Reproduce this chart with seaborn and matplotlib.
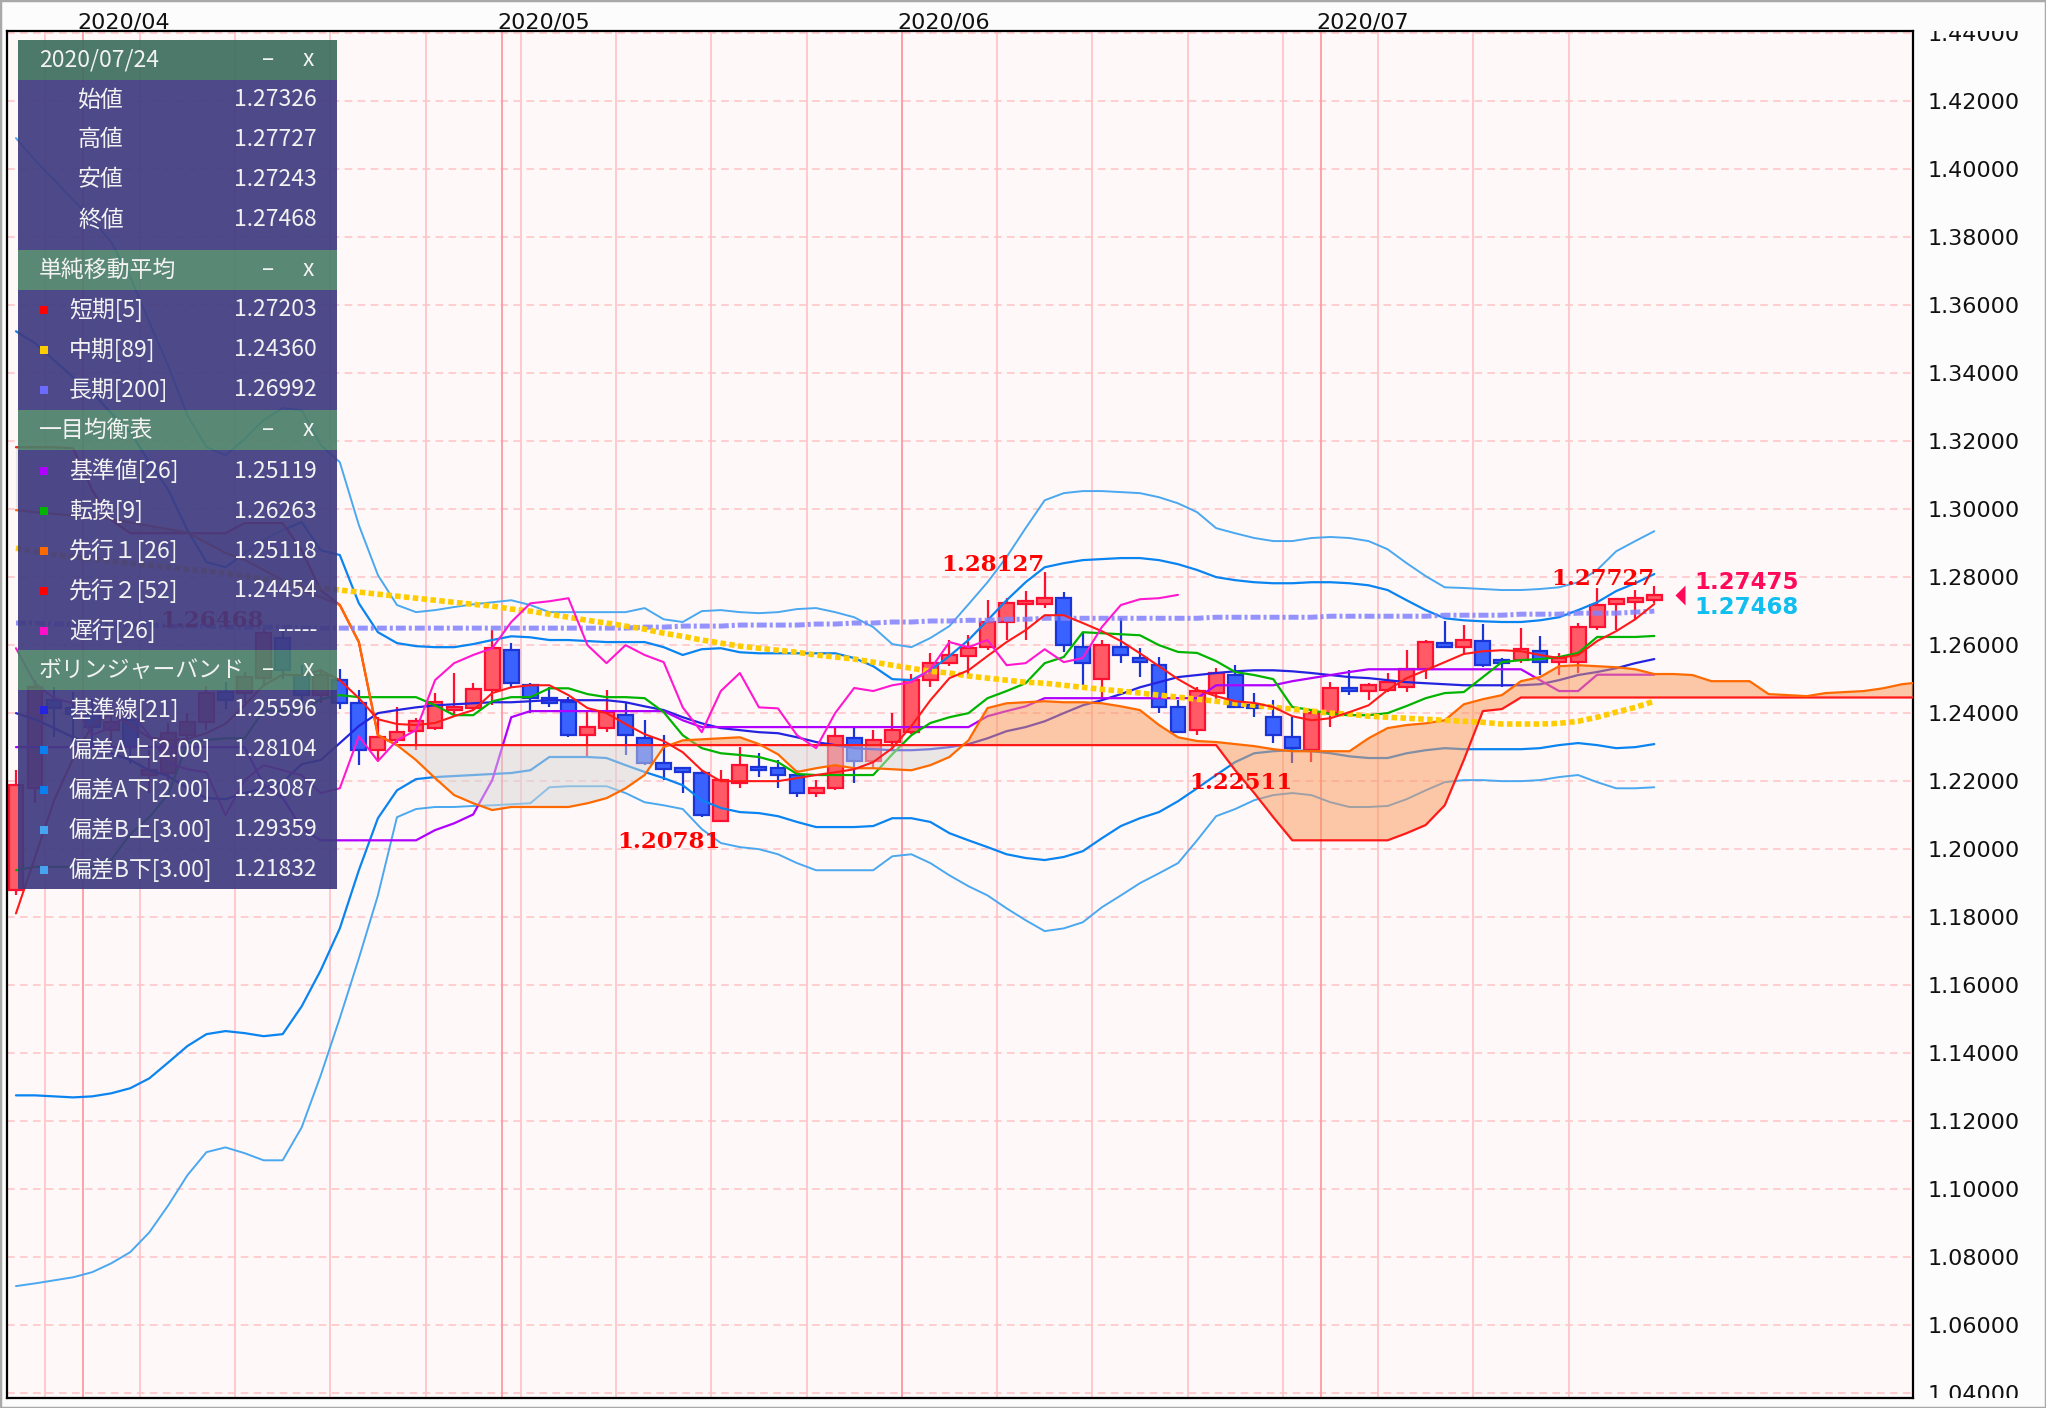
import matplotlib
matplotlib.use("Agg")
import numpy as np
import pandas as pd
import matplotlib.pyplot as plt
import seaborn as sns
from matplotlib.patches import Rectangle
from matplotlib.ticker import FormatStrFormatter
from matplotlib.transforms import Bbox, TransformedBbox, blended_transform_factory

# ---------------- data (GBP/USD daily, 2020/03/26 - 2020/07/24) ----------------
dates = pd.bdate_range("2020-03-26", "2020-07-24")

opens = [1.1878, 1.2178, 1.2437, 1.2413, 1.2396, 1.2349, 1.2378, 1.2216, 1.2222, 1.2334,
         1.2372, 1.2461, 1.2458, 1.2501, 1.2619, 1.2511, 1.2452, 1.2496, 1.2428, 1.2290,
         1.2319, 1.2346, 1.2355, 1.2408, 1.2414, 1.2467, 1.2584, 1.2481, 1.2443, 1.2431,
         1.2334, 1.2355, 1.2393, 1.2325, 1.2252, 1.2237, 1.2222, 1.2081, 1.2193, 1.2240,
         1.2237, 1.2216, 1.2164, 1.2178, 1.2325, 1.2258, 1.2314, 1.2343, 1.2496, 1.2546,
         1.2566, 1.2593, 1.2667, 1.2719, 1.2719, 1.2737, 1.2593, 1.2499, 1.2593, 1.2561,
         1.2540, 1.2416, 1.2349, 1.2458, 1.2511, 1.2422, 1.2387, 1.2328, 1.2290, 1.2399,
         1.2473, 1.2464, 1.2467, 1.2476, 1.2528, 1.2605, 1.2593, 1.2611, 1.2555, 1.2555,
         1.2581, 1.2549, 1.2549, 1.2652, 1.2719, 1.2725, 1.27326]
highs = [1.2231, 1.2496, 1.2475, 1.2460, 1.2440, 1.2420, 1.2400, 1.2290, 1.2370, 1.2400,
         1.2480, 1.2490, 1.2520, 1.26468, 1.2640, 1.2540, 1.2530, 1.2530, 1.2467, 1.2387,
         1.2416, 1.2384, 1.2458, 1.2517, 1.2487, 1.2643, 1.2605, 1.2487, 1.2475, 1.2446,
         1.2402, 1.2467, 1.2431, 1.2378, 1.2334, 1.2240, 1.2228, 1.2231, 1.2299, 1.2281,
         1.2261, 1.2231, 1.2202, 1.2355, 1.2355, 1.2349, 1.2399, 1.2513, 1.2575, 1.2614,
         1.2628, 1.2731, 1.2737, 1.2757, 1.28127, 1.2755, 1.2634, 1.2614, 1.2678, 1.2590,
         1.2564, 1.2437, 1.2476, 1.2531, 1.2540, 1.2457, 1.2437, 1.2387, 1.2405, 1.2490,
         1.2525, 1.2487, 1.2517, 1.2584, 1.2614, 1.2669, 1.2658, 1.2661, 1.2561, 1.2649,
         1.2625, 1.2575, 1.2664, 1.2766, 1.2737, 1.2761, 1.27727]
lows = [1.1864, 1.2134, 1.2328, 1.2310, 1.2300, 1.2300, 1.2250, 1.2165, 1.2200, 1.2300,
        1.2350, 1.2410, 1.2430, 1.2480, 1.2500, 1.2420, 1.2430, 1.2411, 1.2246, 1.2261,
        1.2311, 1.2290, 1.2349, 1.2396, 1.2408, 1.2423, 1.2473, 1.2399, 1.2417, 1.2328,
        1.2267, 1.2343, 1.2275, 1.2246, 1.2202, 1.2164, 1.2093, 1.20781, 1.2178, 1.2211,
        1.2178, 1.2152, 1.2152, 1.2172, 1.2193, 1.2237, 1.2290, 1.2338, 1.2476, 1.2537,
        1.2502, 1.2584, 1.2614, 1.2614, 1.2708, 1.2578, 1.2481, 1.2446, 1.2546, 1.2505,
        1.2399, 1.2340, 1.2334, 1.2428, 1.2413, 1.2387, 1.2311, 1.22511, 1.2255, 1.2358,
        1.2452, 1.2437, 1.2461, 1.2461, 1.2499, 1.2590, 1.2570, 1.2534, 1.2475, 1.2546,
        1.2511, 1.2511, 1.2517, 1.2643, 1.2643, 1.2672, 1.27243]
closes = [1.2187, 1.2475, 1.2413, 1.2396, 1.2357, 1.2372, 1.2299, 1.2231, 1.2340, 1.2372,
          1.2458, 1.2437, 1.2504, 1.2634, 1.2525, 1.2452, 1.2511, 1.2428, 1.2290, 1.2328,
          1.2343, 1.2375, 1.2431, 1.2416, 1.2470, 1.2590, 1.2487, 1.2443, 1.2428, 1.2334,
          1.2358, 1.2402, 1.2334, 1.2252, 1.2234, 1.2225, 1.2099, 1.2202, 1.2246, 1.2231,
          1.2216, 1.2164, 1.2178, 1.2331, 1.2258, 1.2319, 1.2349, 1.2496, 1.2546, 1.2570,
          1.2590, 1.2667, 1.2722, 1.2728, 1.2737, 1.2599, 1.2546, 1.2599, 1.2570, 1.2549,
          1.2416, 1.2343, 1.2464, 1.2517, 1.2416, 1.2413, 1.2334, 1.2296, 1.2399, 1.2473,
          1.2464, 1.2481, 1.2490, 1.2528, 1.2608, 1.2593, 1.2614, 1.2540, 1.2546, 1.2587,
          1.2549, 1.2561, 1.2652, 1.2717, 1.2734, 1.2737, 1.27468]

sma5 = [1.1810, 1.1975, 1.2142, 1.2266, 1.2362, 1.2399, 1.2364, 1.2327, 1.2320, 1.2323,
        1.2340, 1.2368, 1.2422, 1.2481, 1.2512, 1.2510, 1.2525, 1.2496, 1.2443, 1.2381,
        1.2367, 1.2364, 1.2370, 1.2390, 1.2408, 1.2458, 1.2475, 1.2481, 1.2481, 1.2452,
        1.2414, 1.2399, 1.2367, 1.2337, 1.2317, 1.2284, 1.2231, 1.2199, 1.2199, 1.2199,
        1.2199, 1.2208, 1.2217, 1.2225, 1.2234, 1.2255, 1.2296, 1.2361, 1.2437, 1.2502,
        1.2525, 1.2567, 1.2608, 1.2643, 1.2687, 1.2687, 1.2664, 1.2640, 1.2611, 1.2575,
        1.2537, 1.2499, 1.2467, 1.2449, 1.2434, 1.2429, 1.2417, 1.2390, 1.2378, 1.2384,
        1.2402, 1.2422, 1.2467, 1.2502, 1.2525, 1.2549, 1.2573, 1.2581, 1.2584, 1.2581,
        1.2570, 1.2561, 1.2570, 1.2611, 1.2640, 1.2675, 1.2720]
sma89 = [1.2884, 1.2875, 1.2866, 1.2858, 1.2852, 1.2846, 1.2840, 1.2834, 1.2828, 1.2822,
         1.2817, 1.2811, 1.2802, 1.2793, 1.2784, 1.2775, 1.2767, 1.2761, 1.2755, 1.2749,
         1.2743, 1.2737, 1.2731, 1.2725, 1.2719, 1.2714, 1.2705, 1.2699, 1.2690, 1.2681,
         1.2672, 1.2664, 1.2655, 1.2646, 1.2634, 1.2625, 1.2614, 1.2605, 1.2596, 1.2590,
         1.2584, 1.2578, 1.2570, 1.2564, 1.2558, 1.2549, 1.2540, 1.2531, 1.2522, 1.2517,
         1.2508, 1.2502, 1.2496, 1.2490, 1.2487, 1.2481, 1.2475, 1.2469, 1.2464, 1.2458,
         1.2452, 1.2446, 1.2440, 1.2434, 1.2428, 1.2422, 1.2416, 1.2411, 1.2405, 1.2399,
         1.2396, 1.2390, 1.2387, 1.2384, 1.2381, 1.2378, 1.2375, 1.2372, 1.2367, 1.2367,
         1.2367, 1.2369, 1.2375, 1.2387, 1.2402, 1.2416, 1.2434]
sma200 = [1.2664, 1.2664, 1.2661, 1.2661, 1.2661, 1.2658, 1.2658, 1.2658, 1.2655, 1.2655,
          1.2655, 1.2652, 1.2652, 1.2652, 1.2652, 1.2649, 1.2649, 1.2649, 1.2649, 1.2649,
          1.2649, 1.2649, 1.2649, 1.2649, 1.2649, 1.2649, 1.2649, 1.2649, 1.2649, 1.2649,
          1.2649, 1.2649, 1.2649, 1.2652, 1.2652, 1.2655, 1.2655, 1.2655, 1.2658, 1.2658,
          1.2658, 1.2658, 1.2661, 1.2661, 1.2664, 1.2664, 1.2667, 1.2667, 1.2670, 1.2670,
          1.2672, 1.2672, 1.2675, 1.2675, 1.2678, 1.2678, 1.2678, 1.2678, 1.2678, 1.2678,
          1.2678, 1.2678, 1.2678, 1.2681, 1.2681, 1.2681, 1.2681, 1.2681, 1.2681, 1.2684,
          1.2684, 1.2684, 1.2684, 1.2684, 1.2684, 1.2687, 1.2687, 1.2687, 1.2687, 1.2690,
          1.2690, 1.2690, 1.2693, 1.2693, 1.2693, 1.2696, 1.2699]

tenkan = [1.1937, 1.1947, 1.1947, 1.1947, 1.1947, 1.1967, 1.2043, 1.2093, 1.2161, 1.2312,
          1.2320, 1.2325, 1.2325, 1.2406, 1.2406, 1.2406, 1.2440, 1.2452, 1.2446, 1.2446,
          1.2446, 1.2446, 1.2422, 1.2393, 1.2393, 1.2434, 1.2446, 1.2446, 1.2472, 1.2472,
          1.2455, 1.2446, 1.2446, 1.2443, 1.2402, 1.2334, 1.2296, 1.2281, 1.2276, 1.2270,
          1.2255, 1.2220, 1.2217, 1.2217, 1.2217, 1.2217, 1.2278, 1.2334, 1.2370, 1.2387,
          1.2399, 1.2443, 1.2464, 1.2487, 1.2546, 1.2564, 1.2637, 1.2634, 1.2631, 1.2628,
          1.2599, 1.2579, 1.2576, 1.2552, 1.2520, 1.2511, 1.2499, 1.2417, 1.2408, 1.2396,
          1.2393, 1.2393, 1.2399, 1.2420, 1.2443, 1.2458, 1.2461, 1.2505, 1.2549, 1.2555,
          1.2558, 1.2564, 1.2576, 1.2623, 1.2623, 1.2623, 1.2626]
kijun = [1.2299, 1.2299, 1.2299, 1.2299, 1.2299, 1.2299, 1.2299, 1.2299, 1.2299, 1.2299,
         1.2299, 1.2299, 1.2299, 1.2190, 1.2150, 1.2060, 1.2025, 1.2025, 1.2025, 1.2025,
         1.2025, 1.2025, 1.2055, 1.2075, 1.2101, 1.2202, 1.2387, 1.2405, 1.2405, 1.2405,
         1.2405, 1.2405, 1.2405, 1.2405, 1.2405, 1.2378, 1.2358, 1.2358, 1.2358, 1.2358,
         1.2358, 1.2358, 1.2358, 1.2358, 1.2358, 1.2358, 1.2358, 1.2358, 1.2358, 1.2358,
         1.2358, 1.2390, 1.2405, 1.2419, 1.2443, 1.2443, 1.2443, 1.2443, 1.2443, 1.2443,
         1.2443, 1.2443, 1.2443, 1.2481, 1.2481, 1.2481, 1.2481, 1.2493, 1.2502, 1.2511,
         1.2520, 1.2528, 1.2528, 1.2528, 1.2528, 1.2528, 1.2528, 1.2528, 1.2528, 1.2528,
         1.2496, 1.2464, 1.2464, 1.2512, 1.2512, 1.2512, 1.2512]
# leading spans run 14 sessions past the last candle
senkou1 = [1.2996, 1.2990, 1.2985, 1.2980, 1.2975, 1.2970, 1.2960, 1.2950, 1.2940, 1.2930,
           1.2900, 1.2870, 1.2850, 1.2820, 1.2790, 1.2760, 1.2740, 1.2717, 1.2608, 1.2334,
           1.2305, 1.2261, 1.2208, 1.2158, 1.2134, 1.2114, 1.2123, 1.2123, 1.2123, 1.2123,
           1.2134, 1.2149, 1.2178, 1.2217, 1.2299, 1.2319, 1.2322, 1.2325, 1.2328, 1.2308,
           1.2278, 1.2226, 1.2237, 1.2246, 1.2237, 1.2237, 1.2234, 1.2231, 1.2246, 1.2270,
           1.2319, 1.2414, 1.2428, 1.2431, 1.2434, 1.2431, 1.2431, 1.2428, 1.2419, 1.2408,
           1.2364, 1.2328, 1.2317, 1.2314, 1.2308, 1.2302, 1.2293, 1.2287, 1.2287, 1.2287,
           1.2287, 1.2325, 1.2355, 1.2364, 1.2369, 1.2378, 1.2425, 1.2440, 1.2452, 1.2493,
           1.2505, 1.2537, 1.2540, 1.2537, 1.2534, 1.2528, 1.2514, 1.2514, 1.2511, 1.2493,
           1.2493, 1.2493, 1.2455, 1.2452, 1.2449, 1.2458, 1.2461, 1.2464, 1.2472, 1.2484,
           1.2490]
senkou2 = ([1.3181, 1.3181, 1.3181, 1.3178, 1.3055, 1.2967, 1.2928, 1.2928, 1.2928, 1.2928,
            1.2928, 1.2928, 1.2958, 1.2958, 1.2958, 1.2878, 1.2760, 1.2717, 1.2608, 1.2334]
           + [1.2305] * 44
           + [1.2231, 1.2164, 1.2093, 1.2025, 1.2025, 1.2025, 1.2025, 1.2025, 1.2025,
              1.2046, 1.2070, 1.2128, 1.2261, 1.2405, 1.2411]
           + [1.2445] * 22)

bb_up3 = [1.4090, 1.4025, 1.3967, 1.3908, 1.3852, 1.3784, 1.3681, 1.3549, 1.3419, 1.3275,
          1.3181, 1.3157, 1.3205, 1.3261, 1.3296, 1.3290, 1.3187, 1.3137, 1.2952, 1.2805,
          1.2717, 1.2696, 1.2702, 1.2711, 1.2719, 1.2725, 1.2731, 1.2717, 1.2696, 1.2696,
          1.2696, 1.2696, 1.2696, 1.2708, 1.2675, 1.2667, 1.2699, 1.2702, 1.2696, 1.2693,
          1.2696, 1.2705, 1.2708, 1.2696, 1.2681, 1.2652, 1.2602, 1.2593, 1.2620, 1.2655,
          1.2719, 1.2784, 1.2858, 1.2943, 1.3025, 1.3046, 1.3052, 1.3052, 1.3049, 1.3046,
          1.3034, 1.3016, 1.2990, 1.2943, 1.2928, 1.2914, 1.2905, 1.2905, 1.2914, 1.2917,
          1.2914, 1.2905, 1.2881, 1.2840, 1.2802, 1.2769, 1.2767, 1.2764, 1.2761, 1.2761,
          1.2764, 1.2769, 1.2784, 1.2820, 1.2875, 1.2905, 1.2934]
bb_up2 = [1.3522, 1.3487, 1.3437, 1.3387, 1.3343, 1.3281, 1.3225, 1.3137, 1.3055, 1.2937,
          1.2843, 1.2828, 1.2869, 1.2908, 1.2937, 1.2961, 1.2878, 1.2864, 1.2722, 1.2637,
          1.2605, 1.2596, 1.2593, 1.2593, 1.2602, 1.2614, 1.2625, 1.2622, 1.2614, 1.2614,
          1.2611, 1.2608, 1.2608, 1.2608, 1.2593, 1.2570, 1.2587, 1.2590, 1.2578, 1.2575,
          1.2575, 1.2575, 1.2575, 1.2575, 1.2561, 1.2537, 1.2499, 1.2496, 1.2525, 1.2567,
          1.2614, 1.2672, 1.2731, 1.2784, 1.2828, 1.2840, 1.2849, 1.2852, 1.2855, 1.2855,
          1.2849, 1.2837, 1.2820, 1.2799, 1.2790, 1.2784, 1.2781, 1.2781, 1.2784, 1.2784,
          1.2781, 1.2775, 1.2761, 1.2731, 1.2702, 1.2678, 1.2672, 1.2669, 1.2667, 1.2667,
          1.2672, 1.2681, 1.2702, 1.2725, 1.2758, 1.2781, 1.2808]
bb_mid = [1.2399, 1.2381, 1.2355, 1.2328, 1.2308, 1.2281, 1.2261, 1.2231, 1.2214, 1.2178,
          1.2149, 1.2146, 1.2164, 1.2178, 1.2196, 1.2249, 1.2261, 1.2311, 1.2361, 1.2399,
          1.2408, 1.2416, 1.2422, 1.2425, 1.2428, 1.2431, 1.2431, 1.2434, 1.2437, 1.2437,
          1.2437, 1.2437, 1.2431, 1.2419, 1.2408, 1.2387, 1.2369, 1.2355, 1.2349, 1.2343,
          1.2340, 1.2328, 1.2314, 1.2305, 1.2296, 1.2293, 1.2290, 1.2290, 1.2293, 1.2299,
          1.2308, 1.2325, 1.2346, 1.2358, 1.2375, 1.2399, 1.2422, 1.2437, 1.2455, 1.2475,
          1.2490, 1.2505, 1.2511, 1.2517, 1.2522, 1.2525, 1.2525, 1.2522, 1.2517, 1.2511,
          1.2505, 1.2502, 1.2496, 1.2490, 1.2487, 1.2484, 1.2481, 1.2481, 1.2481, 1.2481,
          1.2484, 1.2496, 1.2511, 1.2520, 1.2531, 1.2546, 1.2558]
bb_dn2 = [1.1275, 1.1275, 1.1272, 1.1269, 1.1272, 1.1281, 1.1296, 1.1325, 1.1372, 1.1420,
          1.1455, 1.1464, 1.1458, 1.1449, 1.1455, 1.1537, 1.1643, 1.1766, 1.1937, 1.2090,
          1.2172, 1.2205, 1.2211, 1.2214, 1.2217, 1.2220, 1.2223, 1.2231, 1.2270, 1.2270,
          1.2270, 1.2267, 1.2246, 1.2226, 1.2208, 1.2187, 1.2143, 1.2120, 1.2108, 1.2105,
          1.2096, 1.2079, 1.2064, 1.2064, 1.2064, 1.2067, 1.2090, 1.2090, 1.2079, 1.2046,
          1.2025, 1.2005, 1.1984, 1.1973, 1.1967, 1.1976, 1.1993, 1.2031, 1.2067, 1.2090,
          1.2108, 1.2140, 1.2178, 1.2217, 1.2255, 1.2281, 1.2287, 1.2290, 1.2287, 1.2281,
          1.2272, 1.2267, 1.2267, 1.2281, 1.2290, 1.2296, 1.2293, 1.2293, 1.2293, 1.2293,
          1.2296, 1.2305, 1.2311, 1.2305, 1.2296, 1.2299, 1.2308]
bb_dn3 = [1.0714, 1.0722, 1.0731, 1.0740, 1.0755, 1.0781, 1.0814, 1.0872, 1.0952, 1.1040,
          1.1108, 1.1122, 1.1105, 1.1084, 1.1084, 1.1181, 1.1334, 1.1502, 1.1678, 1.1863,
          1.2093, 1.2117, 1.2123, 1.2123, 1.2126, 1.2128, 1.2131, 1.2134, 1.2181, 1.2184,
          1.2184, 1.2184, 1.2164, 1.2137, 1.2128, 1.2117, 1.2058, 1.2017, 1.2005, 1.1999,
          1.1984, 1.1958, 1.1937, 1.1937, 1.1937, 1.1937, 1.1978, 1.1984, 1.1958, 1.1922,
          1.1890, 1.1863, 1.1825, 1.1790, 1.1758, 1.1766, 1.1784, 1.1828, 1.1863, 1.1899,
          1.1928, 1.1958, 1.2025, 1.2096, 1.2117, 1.2143, 1.2158, 1.2164, 1.2158, 1.2137,
          1.2123, 1.2123, 1.2126, 1.2146, 1.2172, 1.2196, 1.2202, 1.2202, 1.2199, 1.2199,
          1.2202, 1.2211, 1.2217, 1.2196, 1.2178, 1.2178, 1.2181]

price_ticks = [1.04, 1.06, 1.08, 1.10, 1.12, 1.14, 1.16, 1.18, 1.20, 1.22, 1.24,
               1.26, 1.28, 1.30, 1.32, 1.34, 1.36, 1.38, 1.40, 1.42, 1.44]

# swing labels: (session index, price, is_high)
swings = [(11, 1.26468, True), (35, 1.20781, False), (52, 1.28127, True),
          (65, 1.22511, False), (84, 1.27727, True)]

panel_ohlc = [("始値", "1.27326"), ("高値", "1.27727"), ("安値", "1.27243"), ("終値", "1.27468")]
panel_sma = [("短期[5]", "1.27203", "#ff0000"), ("中期[89]", "1.24360", "#ffcc00"),
             ("長期[200]", "1.26992", "#6b6bff")]
panel_ichi = [("基準値[26]", "1.25119", "#b000ff"), ("転換[9]", "1.26263", "#00b400"),
              ("先行１[26]", "1.25118", "#ff6a00"), ("先行２[52]", "1.24454", "#ff0000"),
              ("遅行[26]", "-----", "#ff10c8")]
panel_bb = [("基準線[21]", "1.25596", "#2424e0"), ("偏差A上[2.00]", "1.28104", "#0a7ff0"),
            ("偏差A下[2.00]", "1.23087", "#0a7ff0"), ("偏差B上[3.00]", "1.29359", "#46a4f0"),
            ("偏差B下[3.00]", "1.21832", "#46a4f0")]

# ---------------- figure ----------------
sns.set_style("white")
plt.rcParams["font.family"] = ["DejaVu Sans"]
CJK = ["Noto Sans CJK JP", "DejaVu Sans"]

W, H = 2046, 1408
fig = plt.figure(figsize=(W / 100, H / 100), dpi=100, facecolor="#fcfcfc")
ax = fig.add_axes([7 / W, 10 / H, 1906 / W, 1367 / H])
ax.set_facecolor("#fff8f8")

n = len(closes)
x = np.arange(n) - 2
xf = np.arange(len(senkou1)) - 2
o, h, l, c = map(np.array, (opens, highs, lows, closes))

# grid
for v in price_ticks:
    ax.axhline(v, color="#ffc2c6", lw=1.1, ls=(0, (5, 3.5)), zorder=0.5)
mondays = [x[k] - 0.5 for k, d in enumerate(dates) if d.weekday() == 0]
month_first = [k for k in range(1, n) if dates[k].month != dates[k - 1].month]
for xv in mondays:
    ax.axvline(xv, color="#ffc6ca", lw=1.3, zorder=0.6)
for k in month_first:
    ax.axvline(x[k] - 0.5, color="#ff9aa2", lw=1.3, zorder=0.7)

# candles
up = c >= o
body_lo = np.minimum(o, c)
body_h = np.maximum(np.abs(c - o), 0.00025)
for mask, fill, edge in [(up, "#ff5a66", "#ff1030"), (~up, "#3a62ff", "#1a34d8")]:
    ax.vlines(x[mask], l[mask], h[mask], color=edge, lw=1.6, zorder=2)
    ax.bar(x[mask], body_h[mask], bottom=body_lo[mask], width=0.78, color=fill,
           edgecolor=edge, linewidth=1.6, zorder=2.1)


def line(xs, ys, z=4, **kw):
    sns.lineplot(x=xs, y=ys, ax=ax, legend=False, zorder=z, **kw)


# bollinger bands, kijun and tenkan (under the cloud tint)
line(x, bb_up3, z=2.5, color="#4aa8f0", lw=1.4)
line(x, bb_dn3, z=2.5, color="#4aa8f0", lw=1.4)
line(x, bb_up2, z=2.5, color="#0a84f0", lw=1.6)
line(x, bb_dn2, z=2.5, color="#0a84f0", lw=1.6)
line(x, bb_mid, z=2.5, color="#2424e0", lw=1.6)
line(x, kijun, z=2.6, color="#b000ff", lw=1.6)
line(x, tenkan, z=2.6, color="#00b400", lw=1.6)

# cloud
s1 = np.array(senkou1)
s2 = np.array(senkou2)
ax.fill_between(xf, s1, s2, where=s1 >= s2, interpolate=True, color="#f89858",
                alpha=0.5, lw=0, zorder=3)
ax.fill_between(xf, s1, s2, where=s1 < s2, interpolate=True, color="#d6d6d6",
                alpha=0.5, lw=0, zorder=3)
line(xf, senkou2, z=3.9, color="#ff1a1a", lw=1.6)
line(xf, senkou1, color="#ff6a00", lw=1.6)

# moving averages and lagging span
line(x, sma200, color="#8282ff", lw=3.6, alpha=0.85, ls=(0, (2, 0.6, 0.6, 0.6)))
line(x, sma89, color="#ffcc00", lw=4.0, ls=(0, (1, 0.6)))
line(x, sma5, color="#ff1a1a", lw=1.5)
line(x[:-25], closes[25:], color="#ff18d0", lw=1.5)

# swing labels
for k, p, is_high in swings:
    if is_high:
        ax.annotate(f"{p:.5f}", (k, p), xytext=(0, 1), textcoords="offset points",
                    ha="right", va="baseline", fontsize=16.5, fontweight="bold",
                    family="DejaVu Serif", color="#ff0000", zorder=5)
    else:
        ax.annotate(f"{p:.5f}", (k, p), xytext=(0, -6.5), textcoords="offset points",
                    ha="right", va="top", fontsize=16.5, fontweight="bold",
                    family="DejaVu Serif", color="#ff0000", zorder=5)

# current price markers
ax.plot([85.35], [1.2746], marker=[(0.5, 1), (0.5, -1), (-0.5, 0)], ms=14.4,
        color="#ff0a5a", mec="none", zorder=5)
ax.text(86.08, 1.2784, "1.27475", color="#ff0a5a", fontsize=16.5, fontweight="bold",
        va="center", ha="left", zorder=5)
ax.text(86.08, 1.2710, "1.27468", color="#10bef0", fontsize=16.5, fontweight="bold",
        va="center", ha="left", zorder=5)

# axes
ax.set_xlim(-2.47, 97.58)
ax.set_ylim(1.0385, 1.4405)
ax.set_xticks([])
ax.set_xlabel("")
ax.set_ylabel("")
ax.set_yticks(price_ticks)
ax.yaxis.set_major_formatter(FormatStrFormatter("%.5f"))
ax.yaxis.tick_right()
ax.tick_params(axis="y", length=0, pad=10.8, labelsize=16, labelcolor="#111111")
clip = TransformedBbox(Bbox.from_extents(0, 0, 1.2, 1), ax.transAxes)
for t in ax.yaxis.get_major_ticks():
    t.label2.set_clip_box(clip)
    t.label2.set_clip_on(True)
for s in ax.spines.values():
    s.set_color("black")
    s.set_linewidth(1.6)
    s.set_visible(True)

trans = blended_transform_factory(ax.transData, ax.transAxes)
for k in [0] + month_first:
    if dates[k].day > 3:
        continue
    ax.text(x[k] - 0.75, 1 + 3 / 1367, dates[k].strftime("%Y/%m"), transform=trans,
            ha="left", va="baseline", fontsize=16, color="#111111", clip_on=False)

# ---------------- info panel ----------------
pax = fig.add_axes([18 / W, 1 - 889 / H, 319 / W, 849 / H])
pax.set_xlim(0, 319)
pax.set_ylim(849, 0)
pax.set_axis_off()
bands = [(0, 40, "#3d6e5e"), (40, 210, "#3f3b80"), (210, 250, "#4b7f6a"),
         (250, 370, "#3f3b80"), (370, 410, "#4b7f6a"), (410, 610, "#3f3b80"),
         (610, 650, "#4b7f6a"), (650, 849, "#3f3b80")]
for y0, y1, col in bands:
    pax.add_patch(Rectangle((0, y0), 319, y1 - y0, facecolor=col, alpha=0.92, lw=0))

txt = dict(color="#f2f2f2", fontsize=16.5, family=CJK, va="center")
for cy, title in [(20, "2020/07/24"), (230, "単純移動平均"), (390, "一目均衡表"),
                  (630, "ボリンジャーバンド")]:
    pax.text(21, cy, title, ha="left", **txt)
    pax.text(250, cy, "–", ha="center", **txt)
    pax.text(290, cy, "x", ha="center", **txt)

for r, (name, val) in enumerate(panel_ohlc):
    cy = 60 + 40 * r
    pax.text(60, cy, name, ha="left", **txt)
    pax.text(299, cy, val, ha="right", **txt)

for start, rows in [(270, panel_sma), (431, panel_ichi), (670, panel_bb)]:
    for r, (name, val, col) in enumerate(rows):
        cy = start + 40 * r
        pax.add_patch(Rectangle((22, cy - 4), 8, 8, facecolor=col, lw=0))
        pax.text(51, cy, name, ha="left", **txt)
        pax.text(299, cy, val, ha="right", **txt)

fig.add_artist(Rectangle((0, 0), 1, 1, transform=fig.transFigure, fill=False,
                         edgecolor="#a9a9a9", lw=2.5))

fig.savefig("out.png", dpi=100, facecolor=fig.get_facecolor())
